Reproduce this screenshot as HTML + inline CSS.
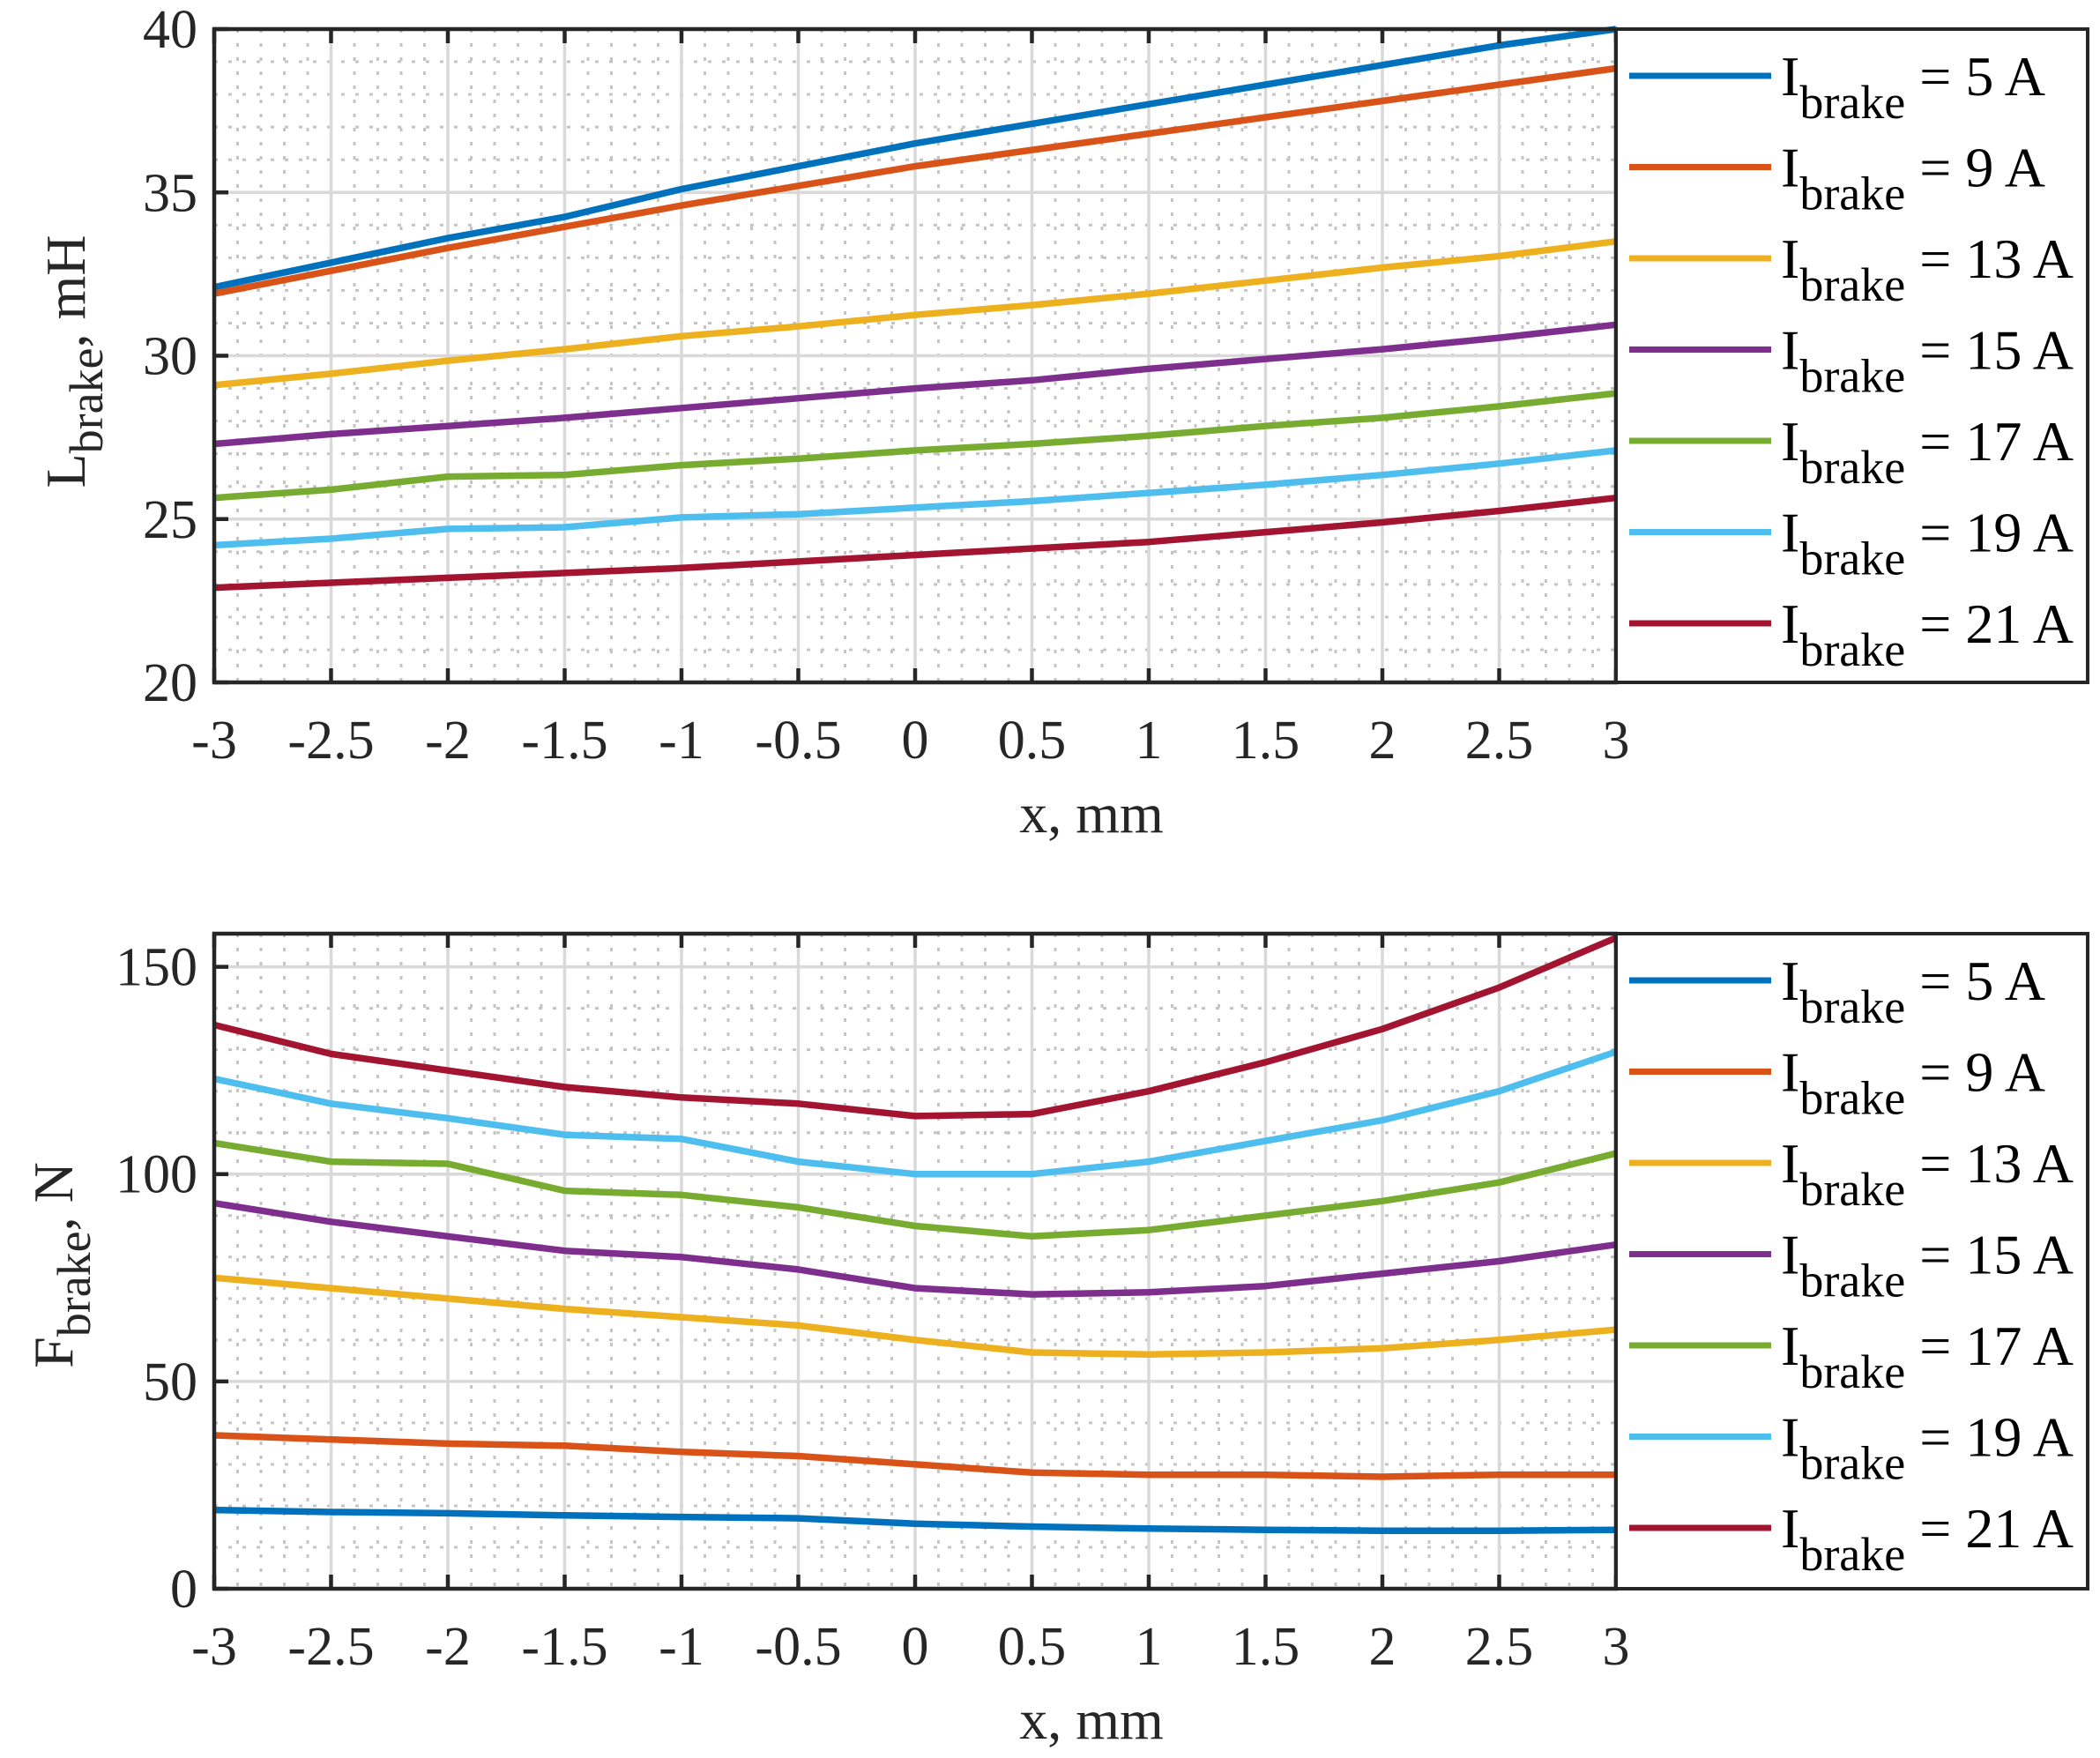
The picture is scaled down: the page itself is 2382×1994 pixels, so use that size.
<!DOCTYPE html>
<html><head><meta charset="utf-8"><style>
html,body{margin:0;padding:0;background:#fff;}
svg{display:block;font-family:"Liberation Serif","Times New Roman",serif;}
</style></head><body>
<svg id="fig" width="2382" height="1994" viewBox="0 0 2382 1994" xmlns="http://www.w3.org/2000/svg"></svg>
<script>
const xValues = [-3,-2.5,-2,-1.5,-1,-0.5,0,0.5,1,1.5,2,2.5,3];
const xTicks = [-3,-2.5,-2,-1.5,-1,-0.5,0,0.5,1,1.5,2,2.5,3];
const seriesLabels = ["5 A","9 A","13 A","15 A","17 A","19 A","21 A"];
const colors = ["#0072BD","#D95319","#EDB120","#7E2F8E","#77AC30","#4DBEEE","#A2142F"];
const L5  = [32.1,32.85,33.6,34.25,35.1,35.8,36.5,37.1,37.7,38.3,38.9,39.5,40.0];
const L9  = [31.9,32.6,33.3,33.95,34.6,35.2,35.8,36.3,36.8,37.3,37.8,38.3,38.8];
const L13 = [29.1,29.45,29.85,30.2,30.6,30.9,31.25,31.55,31.9,32.3,32.7,33.05,33.5];
const L15 = [27.3,27.6,27.85,28.1,28.4,28.7,29.0,29.25,29.6,29.9,30.2,30.55,30.95];
const L17 = [25.65,25.9,26.3,26.35,26.65,26.85,27.1,27.3,27.55,27.85,28.1,28.45,28.85];
const L19 = [24.2,24.4,24.7,24.75,25.05,25.15,25.35,25.55,25.8,26.05,26.35,26.7,27.1];
const L21 = [22.9,23.05,23.2,23.35,23.5,23.7,23.9,24.1,24.3,24.6,24.9,25.25,25.65];
const F5  = [19,18.5,18.2,17.7,17.3,17,15.7,15,14.5,14.2,14,14,14.2];
const F9  = [37,36,35,34.5,33,32,30,28,27.5,27.5,27,27.5,27.5];
const F13 = [75,72.5,70,67.5,65.5,63.5,60,57,56.5,57,58,60,62.5];
const F15 = [93,88.5,85,81.5,80,77,72.5,71,71.5,73,76,79,83];
const F17 = [107.5,103,102.5,96,95,92,87.5,85,86.5,90,93.5,98,105];
const F19 = [123,117,113.5,109.5,108.5,103,100,100,103,108,113,120,129.5];
const F21 = [136,129,125,121,118.5,117,114,114.5,120,127,135,145,157];
const yTicksL = [20,25,30,35,40];
const yTicksF = [0,50,100,150];

const NS="http://www.w3.org/2000/svg";
const svg=document.getElementById('fig');
function mk(tag,attrs,parent){const e=document.createElementNS(NS,tag);for(const k in attrs)e.setAttribute(k,attrs[k]);(parent||svg).appendChild(e);return e;}

function drawPanel(cfg){
  const g=mk('g',{});
  
  
  const X0=243,X1=1833,Y0=cfg.top,Y1=cfg.bottom;
  const sx=v=>X0+(v+3)/6*(X1-X0);
  const sy=v=>Y1-(v-cfg.ymin)/(cfg.ymax-cfg.ymin)*(Y1-Y0);
  for(let i=-30;i<=30;i++){ if(i%5===0) continue; const x=sx(i/10);
    const l=mk('line',{x1:x,x2:x,y1:Y0,y2:Y1,stroke:'#c4c4c4','stroke-width':3,'stroke-dasharray':'4 12'},g);
    
    }
  for(let v=cfg.ymin;v<=cfg.ymax;v+=cfg.minor){ if(Math.abs(v%cfg.major)<1e-9) continue; const y=sy(v);
    const l=mk('line',{x1:X0,x2:X1,y1:y,y2:y,stroke:'#c4c4c4','stroke-width':3,'stroke-dasharray':'4 12'},g);
    
    }
  xTicks.forEach(t=>{const x=sx(t);
    const l=mk('line',{x1:x,x2:x,y1:Y0,y2:Y1,stroke:'#d9d9d9','stroke-width':3.5},g);
    
    });
  cfg.yticks.forEach(t=>{const y=sy(t);
    const l=mk('line',{x1:X0,x2:X1,y1:y,y2:y,stroke:'#d9d9d9','stroke-width':3.5},g);
    
    });
  cfg.series.forEach((arr,si)=>{
    const pts=arr.map((v,i)=>sx(xValues[i]).toFixed(1)+','+sy(v).toFixed(1)).join(' ');
    const p=mk('polyline',{points:pts,fill:'none',stroke:colors[si],'stroke-width':7.5,'stroke-linejoin':'round'},g);
    
    
  });
  const b=mk('rect',{x:X0,y:Y0,width:X1-X0,height:Y1-Y0,fill:'none',stroke:'#262626','stroke-width':4.5},g);
  
  
  xTicks.forEach(t=>{const x=sx(t);
    mk('line',{x1:x,x2:x,y1:Y1,y2:Y1-16,stroke:'#262626','stroke-width':4.5},g);
    mk('line',{x1:x,x2:x,y1:Y0,y2:Y0+16,stroke:'#262626','stroke-width':4.5},g);
    const tx=mk('text',{x:x,y:Y1+86,'text-anchor':'middle','font-size':62,fill:'#262626'},g);
    tx.textContent=String(t);
    
    });
  cfg.yticks.forEach(t=>{const y=sy(t);
    mk('line',{x1:X0,x2:X0+16,y1:y,y2:y,stroke:'#262626','stroke-width':4.5},g);
    const tx=mk('text',{x:224,y:y+21,'text-anchor':'end','font-size':62,fill:'#262626'},g);
    tx.textContent=String(t);
    
    });
  const xl=mk('text',{x:1238,y:Y1+170,'text-anchor':'middle','font-size':64,fill:'#262626'},g);
  xl.textContent='x, mm';
  
  
  const yl=mk('text',{x:0,y:0,'text-anchor':'middle','font-size':64,fill:'#262626',transform:`translate(${cfg.ylx},${cfg.ylc}) rotate(-90)`},g);
  
  
  const t1=mk('tspan',{},yl); t1.textContent=cfg.ysym;
  const t2=mk('tspan',{dy:20,'font-size':54},yl); t2.textContent='brake';
  const t3=mk('tspan',{dy:-20},yl); t3.textContent=', '+cfg.yunit;
  const lg=mk('g',{},g);
  
  
  mk('rect',{x:X1,y:Y0,width:2368-X1,height:Y1-Y0,fill:'#fff',stroke:'#262626','stroke-width':4},lg);
  seriesLabels.forEach((lab,i)=>{
    const cy=Y0+53+i*103.5;
    const e=mk('g',{},lg);
    
    
    mk('line',{x1:1848,x2:2009,y1:cy,y2:cy,stroke:colors[i],'stroke-width':7},e);
    const t=mk('text',{x:2020,y:cy+22,'font-size':64,fill:'#000'},e);
    const a=mk('tspan',{},t); a.textContent='I';
    const s=mk('tspan',{dy:26,'font-size':54},t); s.textContent='brake';
    const c=mk('tspan',{dy:-26},t); c.textContent=' = '+lab;
  });
}
drawPanel({name:'inductance-panel',top:33,bottom:774,ymin:20,ymax:40,major:5,minor:1,yticks:yTicksL,
  series:[L5,L9,L13,L15,L17,L19,L21],ysym:'L',yunit:'mH',ylx:96,ylc:410});
drawPanel({name:'force-panel',top:1059,bottom:1802,ymin:0,ymax:158,major:50,minor:10,yticks:yTicksF,
  series:[F5,F9,F13,F15,F17,F19,F21],ysym:'F',yunit:'N',ylx:82,ylc:1435});
</script>
</body></html>
